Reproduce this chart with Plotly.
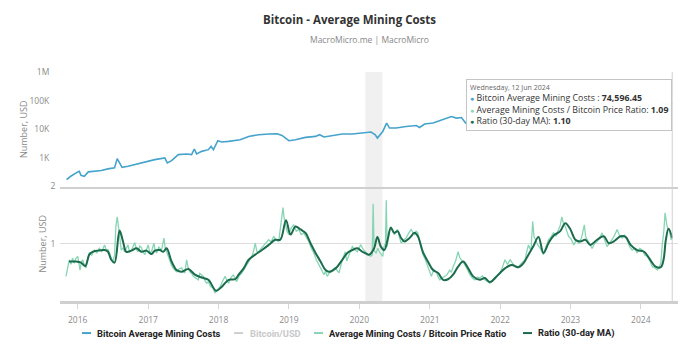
import plotly.graph_objects as go
from plotly.subplots import make_subplots

# ---- Bitcoin Average Mining Costs (USD) ----
cost_dates = ["2015-11-04", "2015-11-26", "2016-01-01", "2016-01-09", "2016-01-18", "2016-02-04",
              "2016-02-25", "2016-03-28", "2016-05-02", "2016-06-06", "2016-07-10", "2016-07-24",
              "2016-08-05", "2016-08-18", "2016-09-18", "2016-10-23", "2016-12-13", "2017-02-04",
              "2017-03-28", "2017-04-10", "2017-05-02", "2017-06-06", "2017-07-19", "2017-08-14",
              "2017-08-28", "2017-09-09", "2017-10-05", "2017-11-09", "2017-11-23", "2017-12-05",
              "2017-12-28", "2018-01-18", "2018-02-22", "2018-03-28", "2018-04-23", "2018-06-06",
              "2018-07-28", "2018-09-18", "2018-11-01", "2018-11-26", "2019-01-01", "2019-02-04",
              "2019-03-28", "2019-05-19", "2019-06-09", "2019-07-02", "2019-08-14", "2019-10-05",
              "2019-11-26", "2020-01-18", "2020-03-02", "2020-03-24", "2020-04-04", "2020-05-02",
              "2020-05-22", "2020-06-06", "2020-07-10", "2020-08-31", "2020-10-23", "2020-11-09",
              "2020-12-05", "2021-01-18", "2021-03-11", "2021-04-23", "2021-05-19", "2021-06-14",
              "2021-07-06", "2021-07-28", "2021-08-31", "2021-10-23", "2021-11-15", "2021-12-20",
              "2022-01-26", "2022-03-10", "2022-05-01", "2022-06-20", "2022-08-10", "2022-10-01",
              "2022-11-20", "2023-01-10", "2023-03-01", "2023-04-20", "2023-06-10", "2023-08-01",
              "2023-09-20", "2023-11-10", "2024-01-01", "2024-02-20", "2024-04-10", "2024-04-21",
              "2024-05-10", "2024-05-28", "2024-06-03", "2024-06-08", "2024-06-12"]
cost_values = [175, 228, 324, 340, 247, 228,
               324, 340, 360, 413, 447, 942,
               667, 469, 508, 582, 667, 869,
               995, 667, 801, 1297, 1371, 1297,
               2046, 1371, 1690, 1936, 2522, 1936,
               3984, 3589, 3765, 3984, 4315, 5623,
               6442, 6812, 6970, 6085, 3984, 4315,
               5190, 5623, 6442, 5358, 5944, 6812,
               6812, 7380, 7990, 6442, 4940, 8380,
               16440, 11010, 11010, 12510, 13550, 11550,
               15170, 16440, 21380, 27850, 24530, 25700,
               16440, 14360, 16440, 21380, 24000, 26000,
               24000, 26000, 25000, 22000, 23000, 22000,
               22500, 20000, 24000, 30000, 29000, 30000,
               29000, 34000, 37000, 41000, 45000, 80000,
               82000, 81000, 68000, 77000, 74596.45]

# ---- Average Mining Costs / Bitcoin Price Ratio ----
ratio_points = [
    ("2015-11-01", 0.43), ("2015-11-10", 0.62), ("2015-11-18", 0.72), ("2015-11-27", 0.64),
    ("2015-12-05", 0.75), ("2015-12-13", 0.66), ("2015-12-22", 0.74), ("2016-01-01", 0.78),
    ("2016-01-07", 0.66), ("2016-01-13", 0.54), ("2016-01-20", 0.68), ("2016-01-27", 0.72),
    ("2016-02-05", 0.62), ("2016-02-13", 0.58), ("2016-02-21", 0.74), ("2016-03-01", 0.84),
    ("2016-03-14", 0.80), ("2016-03-27", 0.89), ("2016-04-09", 0.84), ("2016-04-22", 0.92),
    ("2016-05-05", 0.86), ("2016-05-19", 0.98), ("2016-05-28", 0.89), ("2016-06-06", 0.90),
    ("2016-06-14", 0.84), ("2016-06-22", 0.74), ("2016-07-01", 0.67), ("2016-07-10", 0.80),
    ("2016-07-17", 1.30), ("2016-07-24", 1.47), ("2016-08-02", 1.25), ("2016-08-08", 1.02),
    ("2016-08-14", 0.89), ("2016-08-22", 0.93), ("2016-08-31", 0.86), ("2016-09-09", 0.92),
    ("2016-09-18", 0.98), ("2016-09-26", 0.85), ("2016-10-05", 0.88), ("2016-10-14", 0.95),
    ("2016-10-23", 1.02), ("2016-11-01", 0.90), ("2016-11-09", 0.86), ("2016-11-18", 0.96),
    ("2016-11-27", 0.93), ("2016-12-05", 0.86), ("2016-12-14", 0.81), ("2016-12-23", 0.90),
    ("2017-01-01", 0.98), ("2017-01-09", 0.84), ("2017-01-18", 0.86), ("2017-01-30", 1.01),
    ("2017-02-06", 0.88), ("2017-02-13", 0.84), ("2017-02-25", 0.94), ("2017-03-11", 0.89),
    ("2017-03-17", 0.98), ("2017-03-23", 1.10), ("2017-03-30", 0.93), ("2017-04-06", 0.86),
    ("2017-04-15", 0.80), ("2017-04-23", 0.69), ("2017-05-02", 0.62), ("2017-05-11", 0.57),
    ("2017-05-20", 0.54), ("2017-05-28", 0.51), ("2017-06-10", 0.56), ("2017-06-23", 0.58),
    ("2017-07-01", 0.52), ("2017-07-10", 0.49), ("2017-07-19", 0.72), ("2017-07-27", 0.58),
    ("2017-08-05", 0.51), ("2017-08-14", 0.48), ("2017-08-23", 0.43), ("2017-09-05", 0.40),
    ("2017-09-18", 0.37), ("2017-09-25", 0.48), ("2017-10-05", 0.46), ("2017-10-14", 0.43),
    ("2017-10-22", 0.36), ("2017-10-31", 0.31), ("2017-11-09", 0.34), ("2017-11-20", 0.25),
    ("2017-12-01", 0.24), ("2017-12-13", 0.14), ("2017-12-26", 0.20), ("2018-01-09", 0.25),
    ("2018-01-22", 0.35), ("2018-02-04", 0.43), ("2018-02-13", 0.36), ("2018-02-22", 0.31),
    ("2018-03-05", 0.40), ("2018-03-19", 0.46), ("2018-03-28", 0.38), ("2018-04-05", 0.34),
    ("2018-04-18", 0.44), ("2018-05-02", 0.49), ("2018-05-15", 0.56), ("2018-05-28", 0.63),
    ("2018-06-10", 0.70), ("2018-06-23", 0.78), ("2018-07-02", 0.88), ("2018-07-10", 1.01),
    ("2018-07-19", 0.86), ("2018-07-28", 0.86), ("2018-08-10", 0.92), ("2018-08-23", 0.98),
    ("2018-09-05", 1.02), ("2018-09-18", 1.07), ("2018-10-01", 1.03), ("2018-10-14", 1.13),
    ("2018-10-27", 1.06), ("2018-11-09", 1.04), ("2018-11-20", 1.30), ("2018-12-01", 1.63),
    ("2018-12-07", 1.45), ("2018-12-13", 1.36), ("2018-12-22", 1.22), ("2019-01-01", 1.16),
    ("2019-01-13", 1.28), ("2019-01-26", 1.33), ("2019-02-08", 1.22), ("2019-02-21", 1.25),
    ("2019-03-06", 1.16), ("2019-03-19", 1.19), ("2019-04-01", 1.10), ("2019-04-14", 1.04),
    ("2019-04-27", 0.92), ("2019-05-10", 0.84), ("2019-05-23", 0.72), ("2019-06-05", 0.63),
    ("2019-06-18", 0.55), ("2019-07-02", 0.46), ("2019-07-10", 0.52), ("2019-07-19", 0.43),
    ("2019-07-31", 0.50), ("2019-08-14", 0.54), ("2019-08-28", 0.58), ("2019-09-18", 0.49),
    ("2019-09-26", 0.62), ("2019-10-05", 0.72), ("2019-10-12", 0.78), ("2019-10-20", 0.86),
    ("2019-10-28", 0.70), ("2019-11-09", 0.82), ("2019-11-17", 0.88), ("2019-11-26", 0.95),
    ("2019-12-08", 0.90), ("2019-12-22", 0.86), ("2020-01-01", 0.94), ("2020-01-09", 0.98),
    ("2020-01-22", 0.90), ("2020-02-04", 0.84), ("2020-02-17", 0.80), ("2020-03-01", 0.78),
    ("2020-03-08", 0.80), ("2020-03-13", 1.70), ("2020-03-18", 0.88), ("2020-03-28", 0.84),
    ("2020-04-06", 0.92), ("2020-04-14", 0.86), ("2020-04-23", 0.82), ("2020-05-02", 0.78),
    ("2020-05-08", 0.95), ("2020-05-16", 1.00), ("2020-05-20", 1.76), ("2020-05-25", 0.95),
    ("2020-06-04", 1.20), ("2020-06-13", 1.30), ("2020-06-22", 1.22), ("2020-07-01", 1.16),
    ("2020-07-10", 1.22), ("2020-07-18", 1.25), ("2020-07-27", 1.12), ("2020-08-05", 1.01),
    ("2020-08-18", 1.06), ("2020-08-31", 1.10), ("2020-09-13", 1.18), ("2020-09-26", 1.25),
    ("2020-10-05", 1.20), ("2020-10-14", 1.16), ("2020-10-22", 1.22), ("2020-10-31", 1.19),
    ("2020-11-13", 0.98), ("2020-11-26", 0.81), ("2020-12-09", 0.72), ("2020-12-22", 0.60),
    ("2021-01-01", 0.50), ("2021-01-09", 0.43), ("2021-01-22", 0.55), ("2021-02-04", 0.51),
    ("2021-02-13", 0.42), ("2021-02-22", 0.37), ("2021-03-06", 0.40), ("2021-03-19", 0.43),
    ("2021-04-01", 0.46), ("2021-04-14", 0.54), ("2021-04-23", 0.50), ("2021-05-02", 0.60),
    ("2021-05-15", 0.70), ("2021-05-28", 0.86), ("2021-06-05", 0.76), ("2021-06-14", 0.72),
    ("2021-06-23", 0.68), ("2021-07-02", 0.63), ("2021-07-15", 0.55), ("2021-07-28", 0.46),
    ("2021-08-10", 0.40), ("2021-08-23", 0.37), ("2021-09-05", 0.42), ("2021-09-18", 0.40),
    ("2021-10-01", 0.44), ("2021-10-14", 0.37), ("2021-10-27", 0.34), ("2021-11-09", 0.31),
    ("2021-11-18", 0.34), ("2021-11-26", 0.37), ("2021-12-10", 0.42), ("2022-01-01", 0.49),
    ("2022-01-14", 0.60), ("2022-01-26", 0.72), ("2022-02-08", 0.64), ("2022-02-22", 0.72),
    ("2022-03-06", 0.66), ("2022-03-19", 0.60), ("2022-04-01", 0.58), ("2022-04-14", 0.63),
    ("2022-04-27", 0.68), ("2022-05-10", 0.72), ("2022-05-19", 0.86), ("2022-05-28", 0.98),
    ("2022-06-04", 0.92), ("2022-06-10", 0.89), ("2022-06-19", 1.39), ("2022-06-26", 1.12),
    ("2022-07-03", 1.07), ("2022-07-15", 0.98), ("2022-07-28", 0.92), ("2022-08-05", 0.86),
    ("2022-08-14", 0.81), ("2022-08-27", 0.95), ("2022-09-09", 1.07), ("2022-09-22", 1.12),
    ("2022-10-05", 1.19), ("2022-10-18", 1.14), ("2022-10-31", 1.25), ("2022-11-09", 1.32),
    ("2022-11-17", 1.47), ("2022-11-26", 1.35), ("2022-12-05", 1.30), ("2022-12-14", 1.22),
    ("2022-12-22", 1.13), ("2023-01-05", 1.08), ("2023-01-18", 0.98), ("2023-01-31", 1.06),
    ("2023-02-13", 1.01), ("2023-02-27", 1.10), ("2023-03-14", 1.33), ("2023-03-21", 1.12),
    ("2023-03-28", 1.07), ("2023-04-10", 1.00), ("2023-04-23", 0.92), ("2023-05-06", 1.00),
    ("2023-05-19", 1.04), ("2023-06-01", 1.10), ("2023-06-14", 1.19), ("2023-06-27", 1.05),
    ("2023-07-10", 0.95), ("2023-07-23", 1.02), ("2023-08-05", 1.07), ("2023-08-18", 1.15),
    ("2023-08-31", 1.25), ("2023-09-13", 1.14), ("2023-09-26", 1.10), ("2023-10-09", 1.15),
    ("2023-10-22", 1.07), ("2023-11-04", 0.95), ("2023-11-17", 0.89), ("2023-11-30", 0.92),
    ("2023-12-13", 0.84), ("2023-12-26", 0.92), ("2024-01-09", 0.89), ("2024-01-22", 0.80),
    ("2024-02-04", 0.78), ("2024-02-17", 0.70), ("2024-03-01", 0.60), ("2024-03-14", 0.58),
    ("2024-03-27", 0.54), ("2024-04-06", 0.60), ("2024-04-14", 0.66), ("2024-04-22", 1.01),
    ("2024-04-29", 1.20), ("2024-05-06", 1.54), ("2024-05-10", 1.40), ("2024-05-15", 1.33),
    ("2024-05-22", 1.25), ("2024-05-29", 1.22), ("2024-06-06", 1.07), ("2024-06-12", 1.09),
]
ratio_dates = [d for d, _ in ratio_points]
ratio_values = [v for _, v in ratio_points]

# ---- Ratio (30-day MA) ----
ma_dates = ["2015-11-17", "2015-12-23", "2016-01-18", "2016-02-09", "2016-03-01", "2016-03-18",
            "2016-04-14", "2016-05-19", "2016-06-06", "2016-06-23", "2016-07-10", "2016-08-05",
            "2016-08-23", "2016-09-09", "2016-10-05", "2016-11-01", "2016-11-27", "2016-12-23",
            "2017-01-18", "2017-02-04", "2017-03-02", "2017-03-20", "2017-04-06", "2017-05-02",
            "2017-05-28", "2017-06-23", "2017-07-28", "2017-08-31", "2017-10-05", "2017-11-09",
            "2017-12-19", "2018-01-18", "2018-02-22", "2018-03-28", "2018-04-15", "2018-05-11",
            "2018-06-06", "2018-07-10", "2018-08-14", "2018-09-18", "2018-10-22", "2018-11-17",
            "2018-12-17", "2019-01-09", "2019-02-04", "2019-03-02", "2019-03-28", "2019-04-23",
            "2019-05-19", "2019-06-14", "2019-07-10", "2019-07-28", "2019-08-31", "2019-10-05",
            "2019-10-31", "2019-11-26", "2019-12-22", "2020-01-18", "2020-02-22", "2020-03-18",
            "2020-04-04", "2020-04-22", "2020-05-10", "2020-05-27", "2020-06-13", "2020-07-01",
            "2020-07-18", "2020-08-05", "2020-08-23", "2020-09-18", "2020-10-14", "2020-10-31",
            "2020-11-26", "2020-12-22", "2021-01-18", "2021-02-13", "2021-03-11", "2021-04-06",
            "2021-05-02", "2021-05-28", "2021-06-23", "2021-07-19", "2021-08-14", "2021-09-18",
            "2021-10-14", "2021-11-09", "2021-12-22", "2022-01-26", "2022-03-02", "2022-04-06",
            "2022-05-02", "2022-05-28", "2022-06-23", "2022-07-19", "2022-08-14", "2022-09-09",
            "2022-10-05", "2022-11-09", "2022-12-05", "2023-01-01", "2023-01-26", "2023-02-21",
            "2023-03-19", "2023-04-14", "2023-05-19", "2023-06-23", "2023-07-19", "2023-08-14",
            "2023-09-18", "2023-10-14", "2023-11-09", "2023-12-13", "2024-01-18", "2024-02-13",
            "2024-03-18", "2024-04-14", "2024-04-28", "2024-05-10", "2024-05-24", "2024-06-12"]
ma_values = [0.69, 0.69, 0.67, 0.61, 0.81, 0.86,
             0.88, 0.89, 0.86, 0.72, 0.67, 1.23,
             1.04, 0.86, 0.88, 0.92, 0.86, 0.88,
             0.82, 0.88, 0.89, 0.86, 0.92, 0.69,
             0.54, 0.51, 0.56, 0.46, 0.41, 0.37,
             0.18, 0.25, 0.37, 0.38, 0.46, 0.57,
             0.72, 0.81, 0.89, 0.98, 1.07, 1.07,
             1.41, 1.16, 1.30, 1.25, 1.19, 1.01,
             0.84, 0.69, 0.54, 0.51, 0.57, 0.72,
             0.84, 0.89, 0.92, 0.86, 0.81, 0.92,
             1.12, 0.95, 0.89, 1.07, 1.28, 1.19,
             1.22, 1.10, 1.04, 1.10, 1.19, 1.13,
             0.86, 0.69, 0.54, 0.49, 0.37, 0.38,
             0.46, 0.60, 0.69, 0.57, 0.43, 0.37,
             0.40, 0.33, 0.46, 0.57, 0.63, 0.59,
             0.66, 0.81, 0.96, 1.12, 0.84, 1.01,
             1.14, 1.22, 1.36, 1.25, 1.07, 1.04,
             1.07, 0.98, 1.07, 1.13, 1.01, 1.04,
             1.13, 1.12, 0.98, 0.89, 0.86, 0.75,
             0.60, 0.59, 0.72, 1.07, 1.26, 1.10]

# legend entries: label, colour
legend_labels = ["Bitcoin Average Mining Costs", "Bitcoin/USD",
                 "Average Mining Costs / Bitcoin Price Ratio", "Ratio (30-day MA)"]

BLUE = "#45a3cc"
LIGHT_GREEN = "#86d5b4"
DARK_GREEN = "#1d6b4d"
HIDDEN_GRAY = "#cfcfcf"
GRAY_TXT = "#8a8a8a"
FONT = "Open Sans, Noto Sans, sans-serif"
legend_colors = [BLUE, HIDDEN_GRAY, LIGHT_GREEN, DARK_GREEN]

fig = make_subplots(rows=2, cols=1, shared_xaxes=True, vertical_spacing=0)

fig.add_trace(go.Scatter(x=cost_dates, y=cost_values, mode="lines",
                         name=legend_labels[0],
                         line=dict(color=BLUE, width=1.6)), row=1, col=1)
fig.add_trace(go.Scatter(x=ratio_dates, y=ratio_values, mode="lines",
                         name=legend_labels[2],
                         line=dict(color=LIGHT_GREEN, width=1.3)), row=2, col=1)
fig.add_trace(go.Scatter(x=ma_dates, y=ma_values, mode="lines",
                         name=legend_labels[3], line_shape="spline",
                         line=dict(color=DARK_GREEN, width=2)), row=2, col=1)

xrange = ["2015-10-01", "2024-07-12"]
fig.update_xaxes(range=xrange, type="date", showgrid=False, zeroline=False)
fig.update_xaxes(row=1, col=1, showline=True, linecolor="#cfcfcf", linewidth=2,
                 ticks="", showticklabels=False)
fig.update_xaxes(row=2, col=1, showline=True, linecolor="#cfcfcf", linewidth=2.5,
                 ticks="outside", ticklen=5, tickcolor="#d5d5d5", tickwidth=1,
                 ticklabelstandoff=4,
                 dtick="M12", tick0="2016-01-01", tickformat="%Y",
                 tickfont=dict(size=8.5, color=GRAY_TXT, family=FONT))

fig.update_yaxes(row=1, col=1, type="log", range=[2, 6],
                 tickvals=[1e3, 1e4, 1e5, 1e6], ticktext=["1K", "10K", "100K", "1M"],
                 showgrid=False, zeroline=False, ticks="outside", ticklen=8,
                 tickcolor="rgba(0,0,0,0)",
                 tickfont=dict(size=8.5, color=GRAY_TXT, family=FONT),
                 title=dict(text="Number, USD", font=dict(size=9, color=GRAY_TXT, family=FONT),
                            standoff=0))
fig.update_yaxes(row=2, col=1, range=[0, 2], tickvals=[1, 2], ticktext=["1", "2"],
                 showgrid=True, gridcolor="#dddddd", gridwidth=1.2, zeroline=False,
                 ticks="outside", ticklen=2, tickcolor="rgba(0,0,0,0)",
                 tickfont=dict(size=8.5, color=GRAY_TXT, family=FONT),
                 title=dict(text="Number, USD", font=dict(size=9, color=GRAY_TXT, family=FONT),
                            standoff=2))

# 100K reference line in top panel
fig.add_shape(type="line", xref="x domain", x0=0, x1=1, yref="y", y0=5, y1=5,
              line=dict(color="#d6d6d6", width=1.2), layer="below")
# recession shading
fig.add_shape(type="rect", xref="x", x0="2020-02-01", x1="2020-04-30",
              yref="paper", y0=0, y1=1, fillcolor="rgba(0,0,0,0.06)",
              line=dict(width=0), layer="below")
# hover crosshair
fig.add_shape(type="line", xref="x", x0="2024-06-12", x1="2024-06-12",
              yref="paper", y0=0, y1=1, line=dict(color="#d0d0d0", width=1))

tooltip = ("<span style='font-size:7px;color:#666'>Wednesday, 12 Jun 2024</span><br>"
           f"<span style='color:{BLUE};font-size:7px'>●</span> Bitcoin Average Mining Costs : <b>74,596.45</b><br>"
           f"<span style='color:{LIGHT_GREEN};font-size:7px'>●</span> Average Mining Costs / Bitcoin Price Ratio: <b>1.09</b><br>"
           f"<span style='color:{DARK_GREEN};font-size:7px'>●</span> Ratio (30-day MA): <b>1.10</b>")
fig.add_annotation(xref="paper", yref="paper", x=0.657, y=0.969, xanchor="left", yanchor="top",
                   text=tooltip, showarrow=False, align="left",
                   font=dict(size=8.8, color="#333", family=FONT),
                   bgcolor="rgba(255,255,255,0.97)", bordercolor="#c4c4c4", borderwidth=1,
                   borderpad=3)

fig.add_annotation(xref="paper", yref="paper", x=0.5, y=1.144, xanchor="center",
                   yanchor="middle", text="MacroMicro.me | MacroMicro", showarrow=False,
                   font=dict(size=8.5, color="#888", family=FONT))

# legend row (drawn as short line samples + labels, like the original's compact legend)
legend_sample_x = [0.0356, 0.2816, 0.411, 0.7492]
legend_text_x = [0.0566, 0.3042, 0.432, 0.7702]
legend_y = -0.14
for lbl, col, sx, tx in zip(legend_labels, legend_colors, legend_sample_x, legend_text_x):
    fig.add_shape(type="line", xref="paper", yref="paper", x0=sx, x1=sx + 0.0146,
                  y0=legend_y, y1=legend_y, line=dict(color=col, width=2))
    txt_col = "#c8c8c8" if col == HIDDEN_GRAY else "#222"
    fig.add_annotation(xref="paper", yref="paper", x=tx, y=legend_y, xanchor="left",
                       yanchor="middle", text=f"<b>{lbl}</b>", showarrow=False,
                       font=dict(size=9.3, color=txt_col, family="Roboto, Open Sans, sans-serif"))

# the page adds an 8px body margin, so the figure is sized to fit the window
fig.update_layout(
    width=683, height=352,
    margin=dict(l=52, r=13, t=64, b=59),
    paper_bgcolor="white", plot_bgcolor="white",
    title=dict(text="<b>Bitcoin - Average Mining Costs</b>", x=0.5, xanchor="center",
               y=0.966, yanchor="middle", font=dict(size=11.5, color="#333", family=FONT)),
    showlegend=False,
    font=dict(family=FONT),
)

fig.write_html("out.html")
